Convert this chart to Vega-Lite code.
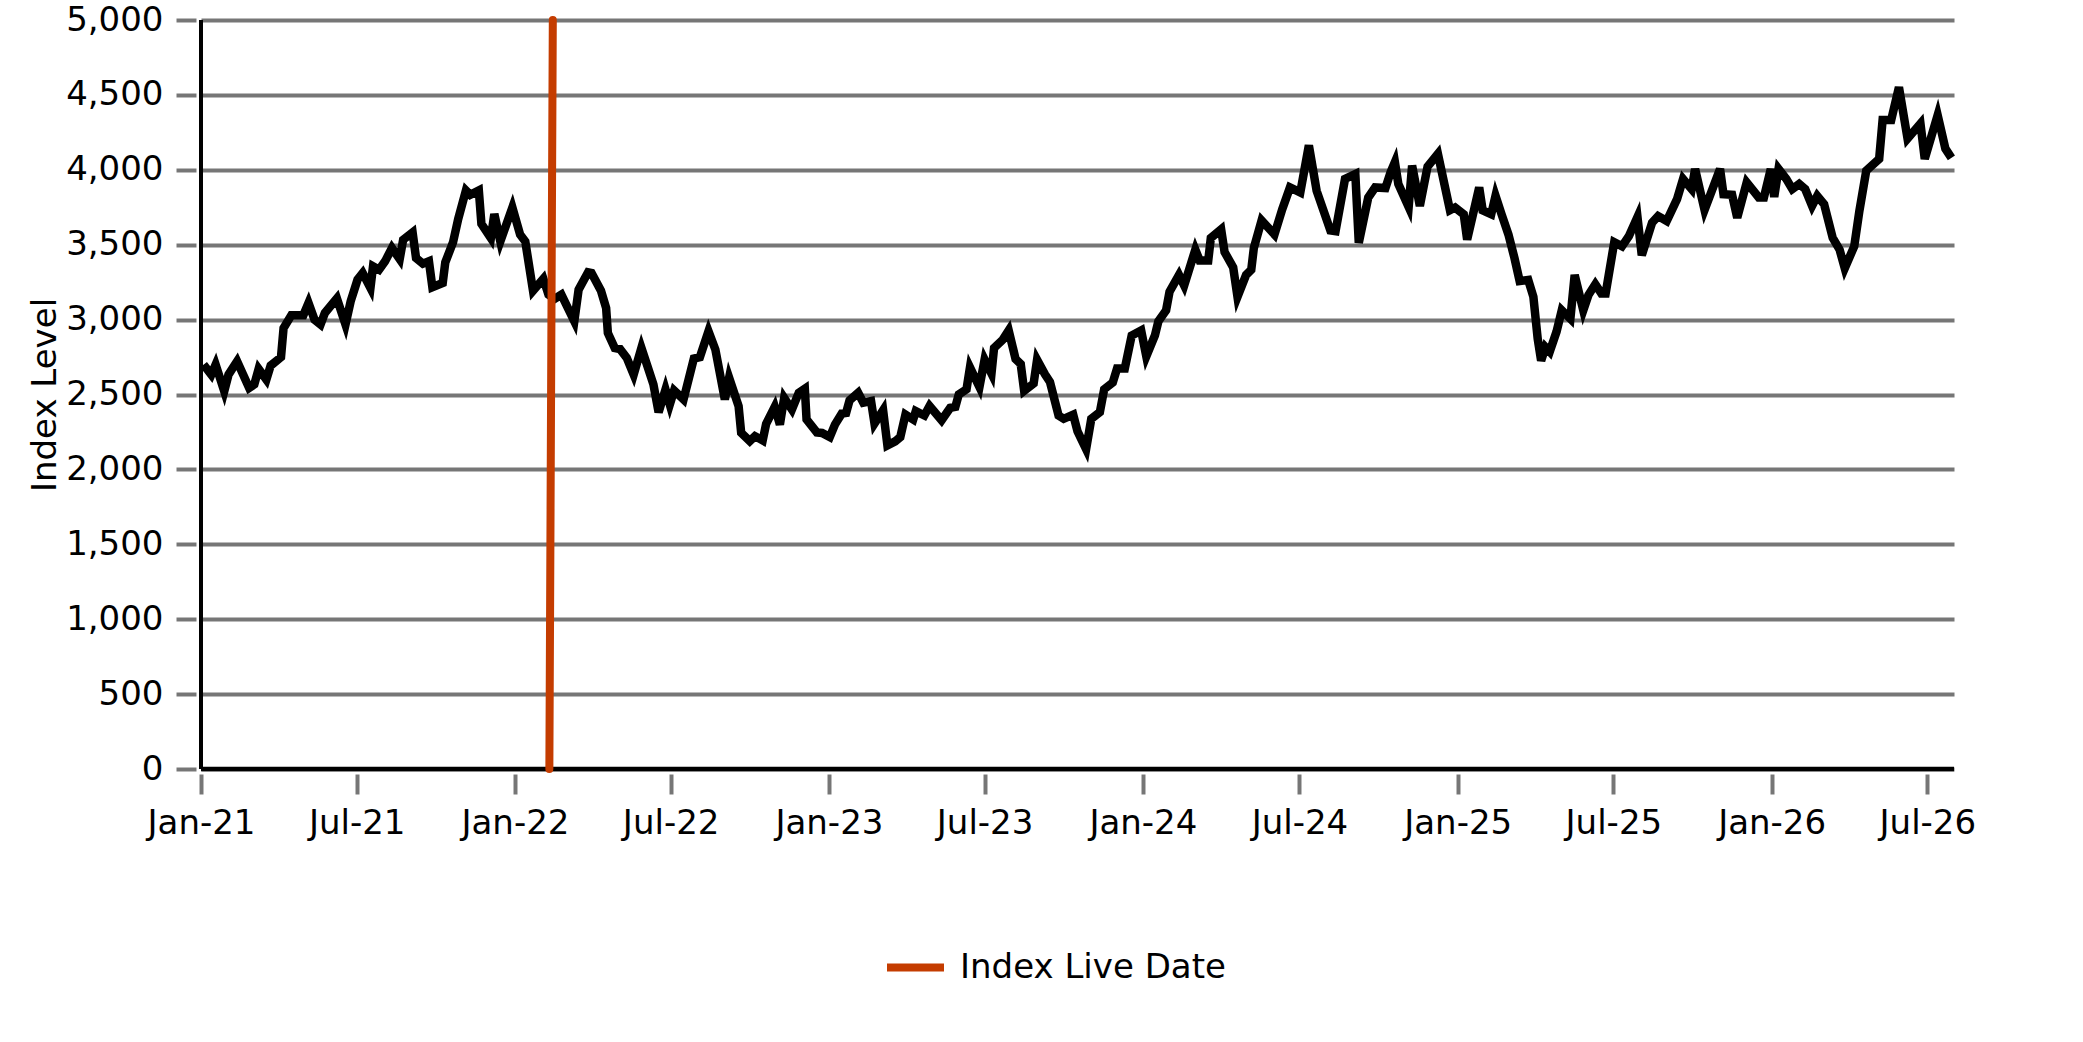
{
  "$schema": "https://vega.github.io/schema/vega-lite/v6.json",
  "autosize": {"type": "none"},
  "padding": {"left": 201, "top": 20, "right": 129, "bottom": 273},
  "width": 1753,
  "height": 749,
  "background": "white",
  "config": {
    "view": {"stroke": null},
    "font": "DejaVu Sans",
    "axis": {"labelFont": "DejaVu Sans", "titleFont": "DejaVu Sans", "labelColor": "black", "titleColor": "black"},
    "legend": {"labelFont": "DejaVu Sans"}
  },
  "datasets": {
    "index": [
      {"date": "2021-01-04", "level": 2700},
      {"date": "2021-01-13", "level": 2633},
      {"date": "2021-01-18", "level": 2700},
      {"date": "2021-01-28", "level": 2522},
      {"date": "2021-02-02", "level": 2633},
      {"date": "2021-02-12", "level": 2722},
      {"date": "2021-02-26", "level": 2544},
      {"date": "2021-03-04", "level": 2567},
      {"date": "2021-03-09", "level": 2671},
      {"date": "2021-03-18", "level": 2600},
      {"date": "2021-03-23", "level": 2693},
      {"date": "2021-04-04", "level": 2749},
      {"date": "2021-04-07", "level": 2944},
      {"date": "2021-04-16", "level": 3029},
      {"date": "2021-04-30", "level": 3029},
      {"date": "2021-05-06", "level": 3111},
      {"date": "2021-05-13", "level": 3000},
      {"date": "2021-05-20", "level": 2967},
      {"date": "2021-05-25", "level": 3044},
      {"date": "2021-06-08", "level": 3142},
      {"date": "2021-06-18", "level": 2967},
      {"date": "2021-06-24", "level": 3122},
      {"date": "2021-07-02", "level": 3267},
      {"date": "2021-07-08", "level": 3311},
      {"date": "2021-07-17", "level": 3211},
      {"date": "2021-07-20", "level": 3356},
      {"date": "2021-07-27", "level": 3333},
      {"date": "2021-08-03", "level": 3389},
      {"date": "2021-08-11", "level": 3478},
      {"date": "2021-08-20", "level": 3404},
      {"date": "2021-08-24", "level": 3533},
      {"date": "2021-09-04", "level": 3582},
      {"date": "2021-09-08", "level": 3411},
      {"date": "2021-09-16", "level": 3373},
      {"date": "2021-09-23", "level": 3389},
      {"date": "2021-09-27", "level": 3216},
      {"date": "2021-10-09", "level": 3244},
      {"date": "2021-10-12", "level": 3382},
      {"date": "2021-10-21", "level": 3516},
      {"date": "2021-10-27", "level": 3671},
      {"date": "2021-11-05", "level": 3862},
      {"date": "2021-11-10", "level": 3833},
      {"date": "2021-11-20", "level": 3862},
      {"date": "2021-11-23", "level": 3640},
      {"date": "2021-12-04", "level": 3544},
      {"date": "2021-12-08", "level": 3705},
      {"date": "2021-12-15", "level": 3522},
      {"date": "2021-12-29", "level": 3749},
      {"date": "2022-01-07", "level": 3567},
      {"date": "2022-01-13", "level": 3522},
      {"date": "2022-01-22", "level": 3193},
      {"date": "2022-02-03", "level": 3273},
      {"date": "2022-02-09", "level": 3167},
      {"date": "2022-02-16", "level": 3138},
      {"date": "2022-02-24", "level": 3167},
      {"date": "2022-03-11", "level": 2989},
      {"date": "2022-03-16", "level": 3200},
      {"date": "2022-03-27", "level": 3316},
      {"date": "2022-03-31", "level": 3311},
      {"date": "2022-04-11", "level": 3193},
      {"date": "2022-04-17", "level": 3078},
      {"date": "2022-04-19", "level": 2911},
      {"date": "2022-04-27", "level": 2811},
      {"date": "2022-05-03", "level": 2804},
      {"date": "2022-05-11", "level": 2744},
      {"date": "2022-05-19", "level": 2633},
      {"date": "2022-05-28", "level": 2811},
      {"date": "2022-06-04", "level": 2689},
      {"date": "2022-06-11", "level": 2567},
      {"date": "2022-06-17", "level": 2382},
      {"date": "2022-06-25", "level": 2533},
      {"date": "2022-06-30", "level": 2433},
      {"date": "2022-07-05", "level": 2527},
      {"date": "2022-07-16", "level": 2467},
      {"date": "2022-07-28", "level": 2740},
      {"date": "2022-08-04", "level": 2749},
      {"date": "2022-08-14", "level": 2922},
      {"date": "2022-08-22", "level": 2800},
      {"date": "2022-09-02", "level": 2467},
      {"date": "2022-09-07", "level": 2611},
      {"date": "2022-09-18", "level": 2422},
      {"date": "2022-09-21", "level": 2244},
      {"date": "2022-10-01", "level": 2189},
      {"date": "2022-10-07", "level": 2222},
      {"date": "2022-10-16", "level": 2193},
      {"date": "2022-10-20", "level": 2304},
      {"date": "2022-10-30", "level": 2418},
      {"date": "2022-11-05", "level": 2300},
      {"date": "2022-11-10", "level": 2478},
      {"date": "2022-11-19", "level": 2400},
      {"date": "2022-11-27", "level": 2512},
      {"date": "2022-12-04", "level": 2539},
      {"date": "2022-12-06", "level": 2333},
      {"date": "2022-12-18", "level": 2247},
      {"date": "2022-12-24", "level": 2243},
      {"date": "2023-01-02", "level": 2216},
      {"date": "2023-01-08", "level": 2299},
      {"date": "2023-01-16", "level": 2373},
      {"date": "2023-01-21", "level": 2377},
      {"date": "2023-01-25", "level": 2461},
      {"date": "2023-02-04", "level": 2512},
      {"date": "2023-02-10", "level": 2445},
      {"date": "2023-02-19", "level": 2456},
      {"date": "2023-02-23", "level": 2306},
      {"date": "2023-03-05", "level": 2395},
      {"date": "2023-03-10", "level": 2160},
      {"date": "2023-03-19", "level": 2187},
      {"date": "2023-03-25", "level": 2216},
      {"date": "2023-03-31", "level": 2366},
      {"date": "2023-04-09", "level": 2333},
      {"date": "2023-04-12", "level": 2389},
      {"date": "2023-04-22", "level": 2360},
      {"date": "2023-04-28", "level": 2423},
      {"date": "2023-05-12", "level": 2328},
      {"date": "2023-05-22", "level": 2411},
      {"date": "2023-05-28", "level": 2418},
      {"date": "2023-06-01", "level": 2501},
      {"date": "2023-06-10", "level": 2535},
      {"date": "2023-06-14", "level": 2681},
      {"date": "2023-06-25", "level": 2550},
      {"date": "2023-07-01", "level": 2733},
      {"date": "2023-07-09", "level": 2640},
      {"date": "2023-07-12", "level": 2811},
      {"date": "2023-07-22", "level": 2865},
      {"date": "2023-07-29", "level": 2928},
      {"date": "2023-08-06", "level": 2737},
      {"date": "2023-08-12", "level": 2703},
      {"date": "2023-08-16", "level": 2524},
      {"date": "2023-08-27", "level": 2573},
      {"date": "2023-08-31", "level": 2732},
      {"date": "2023-09-09", "level": 2636},
      {"date": "2023-09-15", "level": 2584},
      {"date": "2023-09-25", "level": 2360},
      {"date": "2023-10-01", "level": 2338},
      {"date": "2023-10-12", "level": 2366},
      {"date": "2023-10-17", "level": 2254},
      {"date": "2023-10-27", "level": 2135},
      {"date": "2023-11-02", "level": 2337},
      {"date": "2023-11-12", "level": 2382},
      {"date": "2023-11-17", "level": 2535},
      {"date": "2023-11-27", "level": 2580},
      {"date": "2023-12-02", "level": 2674},
      {"date": "2023-12-11", "level": 2674},
      {"date": "2023-12-19", "level": 2894},
      {"date": "2023-12-30", "level": 2928},
      {"date": "2024-01-05", "level": 2755},
      {"date": "2024-01-15", "level": 2894},
      {"date": "2024-01-19", "level": 2988},
      {"date": "2024-01-28", "level": 3062},
      {"date": "2024-02-01", "level": 3186},
      {"date": "2024-02-12", "level": 3298},
      {"date": "2024-02-18", "level": 3227},
      {"date": "2024-03-02", "level": 3467},
      {"date": "2024-03-07", "level": 3395},
      {"date": "2024-03-17", "level": 3395},
      {"date": "2024-03-20", "level": 3545},
      {"date": "2024-04-01", "level": 3602},
      {"date": "2024-04-05", "level": 3451},
      {"date": "2024-04-15", "level": 3348},
      {"date": "2024-04-20", "level": 3152},
      {"date": "2024-04-30", "level": 3298},
      {"date": "2024-05-06", "level": 3332},
      {"date": "2024-05-09", "level": 3478},
      {"date": "2024-05-18", "level": 3662},
      {"date": "2024-06-02", "level": 3568},
      {"date": "2024-06-11", "level": 3736},
      {"date": "2024-06-20", "level": 3882},
      {"date": "2024-07-02", "level": 3849},
      {"date": "2024-07-12", "level": 4163},
      {"date": "2024-07-21", "level": 3860},
      {"date": "2024-08-06", "level": 3595},
      {"date": "2024-08-12", "level": 3590},
      {"date": "2024-08-23", "level": 3939},
      {"date": "2024-09-04", "level": 3972},
      {"date": "2024-09-08", "level": 3512},
      {"date": "2024-09-19", "level": 3815},
      {"date": "2024-09-27", "level": 3882},
      {"date": "2024-10-09", "level": 3878},
      {"date": "2024-10-15", "level": 3983},
      {"date": "2024-10-20", "level": 4051},
      {"date": "2024-10-24", "level": 3905},
      {"date": "2024-11-05", "level": 3752},
      {"date": "2024-11-09", "level": 4028},
      {"date": "2024-11-18", "level": 3759},
      {"date": "2024-11-27", "level": 4022},
      {"date": "2024-12-09", "level": 4107},
      {"date": "2024-12-23", "level": 3730},
      {"date": "2024-12-29", "level": 3748},
      {"date": "2025-01-08", "level": 3703},
      {"date": "2025-01-12", "level": 3534},
      {"date": "2025-01-26", "level": 3882},
      {"date": "2025-01-30", "level": 3730},
      {"date": "2025-02-09", "level": 3703},
      {"date": "2025-02-14", "level": 3826},
      {"date": "2025-02-21", "level": 3703},
      {"date": "2025-03-01", "level": 3568},
      {"date": "2025-03-08", "level": 3411},
      {"date": "2025-03-14", "level": 3258},
      {"date": "2025-03-24", "level": 3265},
      {"date": "2025-03-30", "level": 3152},
      {"date": "2025-04-04", "level": 2872},
      {"date": "2025-04-08", "level": 2726},
      {"date": "2025-04-13", "level": 2816},
      {"date": "2025-04-18", "level": 2786},
      {"date": "2025-04-26", "level": 2921},
      {"date": "2025-05-02", "level": 3062},
      {"date": "2025-05-12", "level": 3006},
      {"date": "2025-05-17", "level": 3298},
      {"date": "2025-05-27", "level": 3062},
      {"date": "2025-06-02", "level": 3164},
      {"date": "2025-06-10", "level": 3236},
      {"date": "2025-06-17", "level": 3175},
      {"date": "2025-06-22", "level": 3175},
      {"date": "2025-07-02", "level": 3516},
      {"date": "2025-07-11", "level": 3489},
      {"date": "2025-07-19", "level": 3557},
      {"date": "2025-07-29", "level": 3685},
      {"date": "2025-08-03", "level": 3429},
      {"date": "2025-08-15", "level": 3647},
      {"date": "2025-08-22", "level": 3691},
      {"date": "2025-09-01", "level": 3658},
      {"date": "2025-09-13", "level": 3804},
      {"date": "2025-09-20", "level": 3939},
      {"date": "2025-09-30", "level": 3871},
      {"date": "2025-10-04", "level": 4006},
      {"date": "2025-10-15", "level": 3732},
      {"date": "2025-11-02", "level": 4006},
      {"date": "2025-11-06", "level": 3837},
      {"date": "2025-11-16", "level": 3833},
      {"date": "2025-11-22", "level": 3680},
      {"date": "2025-12-03", "level": 3916},
      {"date": "2025-12-17", "level": 3815},
      {"date": "2025-12-23", "level": 3815},
      {"date": "2025-12-31", "level": 4006},
      {"date": "2026-01-04", "level": 3819},
      {"date": "2026-01-09", "level": 4006},
      {"date": "2026-01-18", "level": 3939},
      {"date": "2026-01-25", "level": 3871},
      {"date": "2026-02-02", "level": 3905},
      {"date": "2026-02-09", "level": 3871},
      {"date": "2026-02-17", "level": 3759},
      {"date": "2026-02-23", "level": 3826},
      {"date": "2026-03-03", "level": 3770},
      {"date": "2026-03-13", "level": 3545},
      {"date": "2026-03-21", "level": 3467},
      {"date": "2026-03-27", "level": 3343},
      {"date": "2026-04-07", "level": 3489},
      {"date": "2026-04-13", "level": 3725},
      {"date": "2026-04-21", "level": 3995},
      {"date": "2026-05-06", "level": 4073},
      {"date": "2026-05-10", "level": 4332},
      {"date": "2026-05-20", "level": 4332},
      {"date": "2026-05-29", "level": 4552},
      {"date": "2026-06-08", "level": 4208},
      {"date": "2026-06-23", "level": 4309},
      {"date": "2026-06-28", "level": 4073},
      {"date": "2026-07-13", "level": 4365},
      {"date": "2026-07-22", "level": 4141},
      {"date": "2026-07-29", "level": 4080}
    ],
    "live": [
      {"date": "2022-02-10", "level": 0, "series": "Index Live Date"},
      {"date": "2022-02-14", "level": 5000, "series": "Index Live Date"}
    ]
  },
  "layer": [
    {
      "data": {"name": "index"},
      "mark": {"type": "line", "color": "black", "strokeWidth": 8.5, "strokeJoin": "miter", "clip": false},
      "encoding": {
        "x": {
          "field": "date", "type": "temporal",
          "scale": {"type": "utc", "domain": [{"year": 2021, "month": 1, "date": 1, "utc": true}, {"year": 2026, "month": 8, "date": 1, "utc": true}]},
          "axis": {
            "title": null, "format": "%b-%y", "tickCount": {"interval": "month", "step": 6},
            "labelFontSize": 34, "labelPadding": 12, "labelFlush": false, "labelOverlap": false,
            "domain": false, "offset": 5, "ticks": true, "tickSize": 20, "tickWidth": 4, "tickColor": "#767676",
            "grid": false
          }
        },
        "y": {
          "field": "level", "type": "quantitative",
          "scale": {"domain": [0, 5000], "nice": false},
          "axis": {
            "title": "Index Level", "titleFontSize": 34, "titleFontWeight": "normal", "titlePadding": 3,
            "values": [0, 500, 1000, 1500, 2000, 2500, 3000, 3500, 4000, 4500, 5000],
            "format": ",d", "labelFontSize": 34, "labelPadding": 13, "labelFlush": false, "labelOverlap": false,
            "domain": false, "offset": 5, "ticks": true, "tickSize": 20, "tickWidth": 4, "tickColor": "#767676",
            "grid": true, "gridColor": "#767676", "gridWidth": 4, "gridOpacity": 1
          }
        }
      }
    },
    {
      "data": {"values": [{"start": "2021-01-01"}]},
      "mark": {"type": "rule", "color": "black", "strokeWidth": 4},
      "encoding": {"x": {"field": "start", "type": "temporal"}}
    },
    {
      "data": {"values": [{"zero": 0}]},
      "mark": {"type": "rule", "color": "black", "strokeWidth": 4.5},
      "encoding": {"y": {"field": "zero", "type": "quantitative"}}
    },
    {
      "data": {"name": "live"},
      "mark": {"type": "line", "strokeWidth": 8, "strokeCap": "round"},
      "encoding": {
        "x": {"field": "date", "type": "temporal"},
        "y": {"field": "level", "type": "quantitative"},
        "color": {
          "field": "series", "type": "nominal",
          "scale": {"range": ["#c43c00"]},
          "legend": {
            "title": null, "orient": "none", "legendX": 682, "legendY": 915,
            "symbolType": "stroke", "symbolSize": 3249, "symbolStrokeWidth": 8,
            "labelFontSize": 34, "labelColor": "black", "labelOffset": 12, "labelLimit": 0, "padding": 0
          }
        }
      }
    }
  ]
}
